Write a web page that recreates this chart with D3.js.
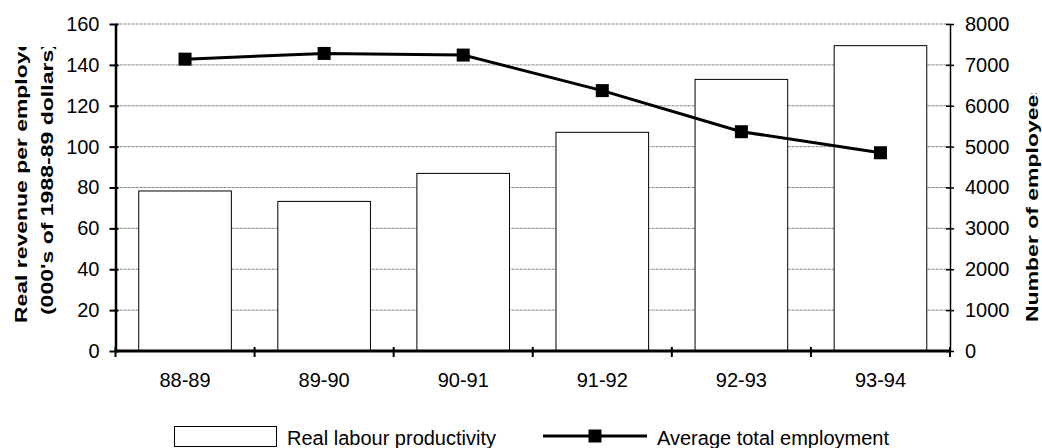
<!DOCTYPE html>
<html>
<head>
<meta charset="utf-8">
<script src="https://cdn.jsdelivr.net/npm/d3@7"></script>
<style>
  body { margin: 0; background: #fff; }
  svg { display: block; font-family: Arial, "Liberation Sans", sans-serif; }
  .grid line { stroke: #858585; stroke-width: 1; stroke-dasharray: 3,1; }
</style>
</head>
<body>
<script>
// datos
var periodos = ['88-89', '89-90', '90-91', '91-92', '92-93', '93-94'];
var productividad = [78.3, 73.2, 86.9, 107.0, 132.9, 149.4];
var empleo = [7140, 7280, 7240, 6370, 5365, 4850];
var ticksIzq = [0, 20, 40, 60, 80, 100, 120, 140, 160];
var ticksDcho = [0, 1000, 2000, 3000, 4000, 5000, 6000, 7000, 8000];

var anchoSvg = 1042,
    altoSvg = 448,
    margen = {sup: 24, izq: 115.5, dcho: 92, inf: 97};

var x0 = margen.izq,
    x1 = anchoSvg - margen.dcho,
    yTop = margen.sup,
    yBot = altoSvg - margen.inf;

var svg = d3.select('body').append('svg')
    .attr('width', anchoSvg)
    .attr('height', altoSvg);

// escalas
var escalaX = d3.scaleBand()
    .domain(periodos)
    .range([x0, x1])
    .paddingInner(0.334)
    .paddingOuter(0.167);

var escalaY = d3.scaleLinear().domain([0, 160]).range([yBot, yTop]);
var escalaY2 = d3.scaleLinear().domain([0, 8000]).range([yBot, yTop]);

// rejilla
svg.append('g').attr('class', 'grid')
    .selectAll('line')
    .data(ticksIzq.slice(1))
    .enter().append('line')
    .attr('x1', x0).attr('x2', x1)
    .attr('y1', d => escalaY(d)).attr('y2', d => escalaY(d));

// barras
svg.append('g')
    .selectAll('rect')
    .data(productividad)
    .enter().append('rect')
    .attr('x', (d, i) => escalaX(periodos[i]))
    .attr('y', d => escalaY(d))
    .attr('width', escalaX.bandwidth())
    .attr('height', d => yBot - escalaY(d))
    .attr('fill', '#fff')
    .attr('stroke', '#000')
    .attr('stroke-width', 1);

// eje izquierdo
var ejeIzq = svg.append('g')
    .attr('transform', 'translate(' + x0 + ',0)')
    .call(d3.axisLeft(escalaY).tickValues(ticksIzq).tickSize(6).tickSizeOuter(0).tickPadding(10));
ejeIzq.attr('font-family', null).attr('font-size', 20);
ejeIzq.select('.domain').attr('stroke-width', 2.5);
ejeIzq.selectAll('.tick line').attr('x1', 3).attr('x2', -6).attr('stroke-width', 2);
ejeIzq.selectAll('text').attr('fill', '#000');

// eje derecho
var ejeDcho = svg.append('g')
    .attr('transform', 'translate(' + x1 + ',0)')
    .call(d3.axisRight(escalaY2).tickValues(ticksDcho).tickFormat(d3.format('d'))
        .tickSize(4).tickSizeOuter(0).tickPadding(11));
ejeDcho.attr('font-family', null).attr('font-size', 20);
ejeDcho.select('.domain').attr('stroke-width', 1.5);
ejeDcho.selectAll('.tick line').attr('x1', -4).attr('x2', 4).attr('stroke-width', 1.5);
ejeDcho.selectAll('text').attr('fill', '#000');

// eje X
var ejeX = svg.append('g')
    .attr('transform', 'translate(0,' + yBot + ')')
    .call(d3.axisBottom(escalaX).tickSize(0).tickPadding(22));
ejeX.attr('font-family', null).attr('font-size', 20);
ejeX.select('.domain').remove();
ejeX.selectAll('text').attr('fill', '#000');
svg.append('line')
    .attr('x1', x0).attr('x2', x1)
    .attr('y1', yBot).attr('y2', yBot)
    .attr('stroke', '#000').attr('stroke-width', 3);
svg.append('g')
    .selectAll('line')
    .data(d3.range(periodos.length + 1))
    .enter().append('line')
    .attr('x1', i => x0 + i * escalaX.step())
    .attr('x2', i => x0 + i * escalaX.step())
    .attr('y1', yBot - 4).attr('y2', yBot + 6)
    .attr('stroke', '#000').attr('stroke-width', 2);

// linea de empleo
var linea = d3.line()
    .x((d, i) => escalaX(periodos[i]) + escalaX.bandwidth() / 2)
    .y(d => escalaY2(d));

svg.append('path')
    .datum(empleo)
    .attr('d', linea)
    .attr('fill', 'none')
    .attr('stroke', '#000')
    .attr('stroke-width', 3);

var lado = 13;
svg.append('g')
    .selectAll('rect')
    .data(empleo)
    .enter().append('rect')
    .attr('x', (d, i) => escalaX(periodos[i]) + escalaX.bandwidth() / 2 - lado / 2)
    .attr('y', d => escalaY2(d) - lado / 2)
    .attr('width', lado).attr('height', lado)
    .attr('fill', '#000');

// titulos de ejes (recortados como en el original)
var defs = svg.append('defs');
defs.append('clipPath').attr('id', 'clipIzq')
    .append('rect').attr('x', 0).attr('y', 47).attr('width', 70).attr('height', 400);
defs.append('clipPath').attr('id', 'clipDcho')
    .append('rect').attr('x', 1000).attr('y', 93).attr('width', 42).attr('height', 355);

var titIzq = svg.append('g').attr('clip-path', 'url(#clipIzq)');
titIzq.append('text')
    .attr('transform', 'translate(27,174.5) rotate(-90)')
    .attr('text-anchor', 'middle')
    .attr('font-size', 17).attr('font-weight', 'bold')
    .attr('textLength', 297).attr('lengthAdjust', 'spacingAndGlyphs')
    .text('Real revenue per employee');
titIzq.append('text')
    .attr('transform', 'translate(53,178.6) rotate(-90)')
    .attr('text-anchor', 'middle')
    .attr('font-size', 17).attr('font-weight', 'bold')
    .attr('textLength', 273).attr('lengthAdjust', 'spacingAndGlyphs')
    .text("(000's of 1988-89 dollars)");

svg.append('g').attr('clip-path', 'url(#clipDcho)')
    .append('text')
    .attr('transform', 'translate(1038,202) rotate(-90)')
    .attr('text-anchor', 'middle')
    .attr('font-size', 17).attr('font-weight', 'bold')
    .attr('textLength', 240).attr('lengthAdjust', 'spacingAndGlyphs')
    .text('Number of employees');

// leyenda
var leyenda = svg.append('g');
leyenda.append('rect')
    .attr('x', 174.5).attr('y', 426.5).attr('width', 102).attr('height', 20)
    .attr('fill', '#fff').attr('stroke', '#000').attr('stroke-width', 1);
leyenda.append('text')
    .attr('x', 287).attr('y', 445)
    .attr('font-size', 20)
    .text('Real labour productivity');
leyenda.append('line')
    .attr('x1', 543).attr('x2', 647).attr('y1', 436).attr('y2', 436)
    .attr('stroke', '#000').attr('stroke-width', 3);
leyenda.append('rect')
    .attr('x', 595 - lado / 2).attr('y', 436 - lado / 2)
    .attr('width', lado).attr('height', lado).attr('fill', '#000');
leyenda.append('text')
    .attr('x', 657).attr('y', 445)
    .attr('font-size', 20)
    .text('Average total employment');
</script>
</body>
</html>
